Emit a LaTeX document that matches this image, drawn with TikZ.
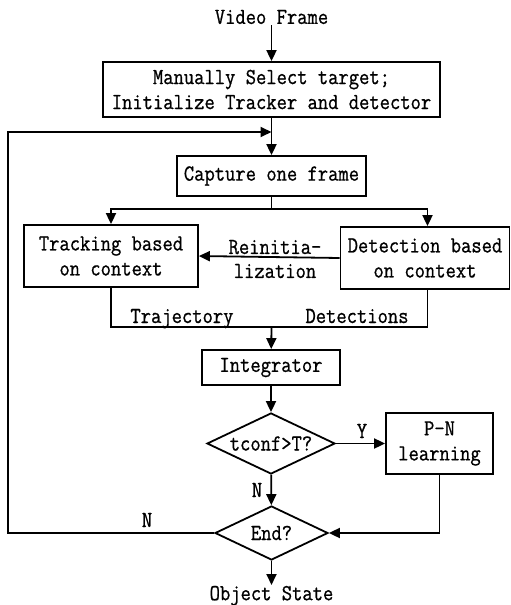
\documentclass[tikz,border=0pt]{standalone}
\usepackage{fontspec}
\setmonofont[FakeBold=0.8,FakeStretch=0.87]{Latin Modern Mono}
\usetikzlibrary{shapes.geometric,arrows.meta}
\begin{document}
\begin{tikzpicture}[x=1pt,y=-1pt, line width=1.8pt,
  every node/.style={font=\ttfamily\fontsize{23}{25}\selectfont},
  box/.style={draw, rectangle, inner sep=0pt, align=center},
  dia/.style={draw, diamond, inner sep=0pt, aspect=2.1},
  arr/.style={-{Triangle[length=11pt,width=10pt]}},
  lbl/.style={inner sep=0pt, align=center}]
\useasboundingbox (0,0) rectangle (511,605);
% nodes
\node[lbl, anchor=south] (vf) at (271.5,25) {Video Frame};
\node[box, minimum width=337pt, minimum height=55pt] (init) at (271.5,89.5)
  {Manually Select target;\\Initialize Tracker and detector};
\node[box, minimum width=189pt, minimum height=40pt] (cap) at (271.5,176) {Capture one frame};
\node[box, minimum width=174pt, minimum height=62pt] (track) at (111,256)
  {Tracking based\\on context};
\node[box, minimum width=169pt, minimum height=62pt] (det) at (425,258)
  {Detection based\\on context};
\node[lbl, font=\ttfamily\fontsize{23}{24}\selectfont] (reinit) at (275,259) {Reinitia-\\lization};
\node[lbl, anchor=base] (traj) at (182,323) {Trajectory};
\node[lbl, anchor=base] (dets) at (357,323) {Detections};
\node[box, minimum width=138pt, minimum height=35pt] (integ) at (271,367.5) {Integrator};
\node[dia, minimum width=128pt, minimum height=61pt] (d1) at (271,443.5) {tconf>T?};
\node[box, minimum width=107pt, minimum height=61pt] (pn) at (439.5,443.5) {P-N\\learning};
\node[dia, minimum width=113pt, minimum height=54pt] (d2) at (271.5,533) {End?};
\node[lbl, anchor=north] (os) at (271.5,585) {Object State};
\node[lbl, anchor=base] (ylab) at (362,438) {Y};
\node[lbl, anchor=base] (n1) at (257,497) {N};
\node[lbl, anchor=base] (n2) at (147,527) {N};
% coordinates
\coordinate (j1) at (271.5,132);
\coordinate (s) at (271.5,209);
\coordinate (sL) at (111,209);
\coordinate (sR) at (427.5,209);
\coordinate (mL) at (111,327);
\coordinate (mR) at (427.5,327);
\coordinate (m) at (271.5,327);
\coordinate (lb) at (8,533);
\coordinate (lt) at (8,132);
\coordinate (pc) at (439.5,533);
% connectors
\draw[arr] (vf) -- (init);
\draw[arr] (init) -- (cap);
\draw (cap) -- (s);
\draw[arr] (s) -- (sL) -- (track);
\draw[arr] (s) -- (sR) -- (sR |- det.north);
\draw[arr] (det.west) -- (track.east);
\draw (track) -- (mL) -- (mR) -- (mR |- det.south);
\draw[arr] (m) -- (integ);
\draw[arr] (integ) -- (d1);
\draw[arr] (d1) -- (pn);
\draw[arr] (d1) -- (d2);
\draw[arr] (pn) -- (pc) -- (d2.east);
\draw[arr] (d2.west) -- (lb) -- (lt) -- (j1);
\draw[arr] (d2) -- (os);
\end{tikzpicture}
\end{document}
